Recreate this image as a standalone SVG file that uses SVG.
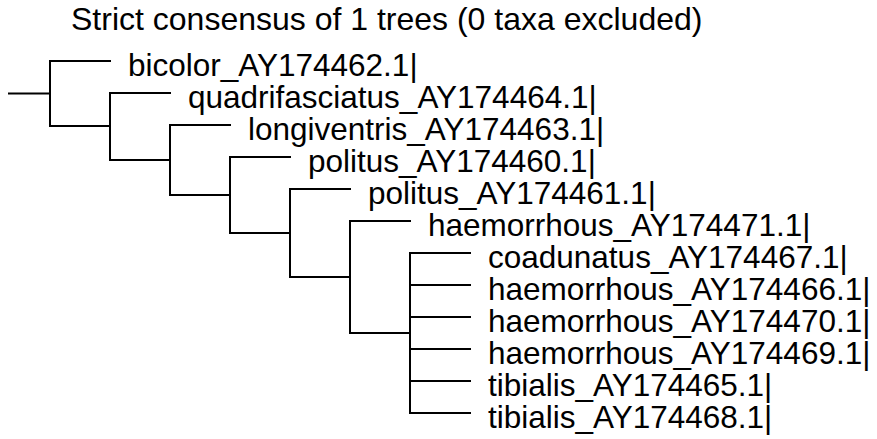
<svg xmlns="http://www.w3.org/2000/svg" width="877" height="439" viewBox="0 0 877 439">
<style>
.t{font-family:"Liberation Sans",Arial,sans-serif;font-size:31.5px;fill:#000}
.h{font-size:32px}
.b{stroke:#000;stroke-width:2;fill:none;stroke-linecap:square}
</style>
<rect width="877" height="439" fill="#fff"/>
<g id="title"><text class="t h" x="71" y="30">Strict consensus of 1 trees (0 taxa excluded)</text></g>
<g id="connectors" class="b">
<path d="M9,93.5H50M50,61V126M50,61H110M50,126H110"/>
<path d="M110,93V160M110,93H170M110,160H170"/>
<path d="M170,125V195M170,125H230M170,195H230"/>
<path d="M230,157V233M230,157H290M230,233H290"/>
<path d="M290,189V277M290,189H350M290,277H350"/>
<path d="M350,221V333M350,221H410M350,333H410"/>
<path d="M410,253V413M410,253H470M410,285H470M410,317H470M410,349H470M410,381H470M410,413H470"/>
</g>
<g id="leaf1"><text class="t" x="128" y="76">bicolor_AY174462.1|</text></g>
<g id="leaf2"><text class="t" x="188" y="108">quadrifasciatus_AY174464.1|</text></g>
<g id="leaf3"><text class="t" x="248" y="140">longiventris_AY174463.1|</text></g>
<g id="leaf4"><text class="t" x="308" y="172">politus_AY174460.1|</text></g>
<g id="leaf5"><text class="t" x="368" y="204">politus_AY174461.1|</text></g>
<g id="leaf6"><text class="t" x="428" y="236">haemorrhous_AY174471.1|</text></g>
<g id="leaf7"><text class="t" x="488" y="268">coadunatus_AY174467.1|</text></g>
<g id="leaf8"><text class="t" x="488" y="300">haemorrhous_AY174466.1|</text></g>
<g id="leaf9"><text class="t" x="488" y="332">haemorrhous_AY174470.1|</text></g>
<g id="leaf10"><text class="t" x="488" y="364">haemorrhous_AY174469.1|</text></g>
<g id="leaf11"><text class="t" x="488" y="396">tibialis_AY174465.1|</text></g>
<g id="leaf12"><text class="t" x="488" y="428">tibialis_AY174468.1|</text></g>
</svg>
